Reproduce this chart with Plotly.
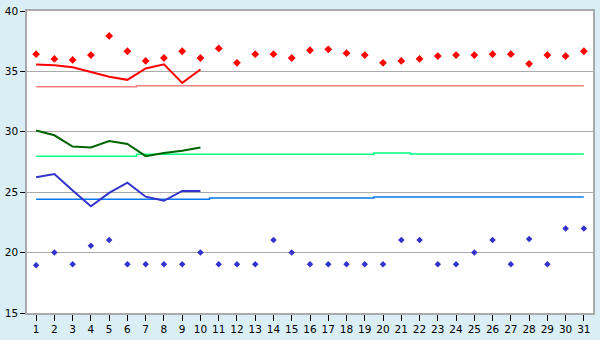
import plotly.graph_objects as go

days = list(range(1, 32))
line_days = list(range(1, 11))

red_points = [36.43, 36.03, 35.95, 36.35, 37.94, 36.67, 35.87, 36.11, 36.67, 36.11,
              36.9, 35.71, 36.43, 36.43, 36.11, 36.75, 36.83, 36.51, 36.35, 35.71,
              35.87, 36.03, 36.27, 36.35, 36.35, 36.43, 36.43, 35.63, 36.35, 36.27, 36.67]
blue_points = [18.96, 20.0, 19.04, 20.56, 21.04, 19.04, 19.04, 19.04, 19.04, 20.0,
               19.04, 19.04, 19.04, 21.04, 20.0, 19.04, 19.04, 19.04, 19.04, 19.04,
               21.04, 21.04, 19.04, 19.04, 20.0, 21.04, 19.04, 21.12, 19.04, 22.0, 22.0]

red_line = [35.58, 35.5, 35.35, 34.96, 34.55, 34.3, 35.24, 35.58, 34.05, 35.16]
green_line = [30.1, 29.71, 28.78, 28.7, 29.23, 28.99, 27.98, 28.25, 28.44, 28.7]
blue_line = [26.24, 26.51, 25.15, 23.83, 24.94, 25.79, 24.63, 24.29, 25.1, 25.1]

red_ref = [33.73] * 6 + [33.81] * 25
green_ref = [27.98] * 6 + [28.15] * 13 + [28.25] * 2 + [28.17] * 10
blue_ref = [24.41] * 10 + [24.52] * 9 + [24.6] * 12

fig = go.Figure()

fig.add_trace(go.Scatter(x=days, y=red_ref, mode="lines", line=dict(color="#f08080", width=1.5, shape="hvh"), hoverinfo="skip"))
fig.add_trace(go.Scatter(x=days, y=green_ref, mode="lines", line=dict(color="#00ff80", width=1.5, shape="hvh"), hoverinfo="skip"))
fig.add_trace(go.Scatter(x=days, y=blue_ref, mode="lines", line=dict(color="#0a78f0", width=1.5, shape="hvh"), hoverinfo="skip"))

fig.add_trace(go.Scatter(x=line_days, y=red_line, mode="lines", line=dict(color="#ff0000", width=2)))
fig.add_trace(go.Scatter(x=line_days, y=green_line, mode="lines", line=dict(color="#006400", width=2)))
fig.add_trace(go.Scatter(x=line_days, y=blue_line, mode="lines", line=dict(color="#3333cc", width=2)))

fig.add_trace(go.Scatter(x=days, y=red_points, mode="markers", marker=dict(symbol="diamond", size=6, color="#ff0000")))
fig.add_trace(go.Scatter(x=days, y=blue_points, mode="markers", marker=dict(symbol="diamond", size=5, color="#3333cc")))

fig.update_layout(
    width=600, height=340,
    margin=dict(l=20.5, r=5, t=5.3, b=20),
    paper_bgcolor="#d9eff5",
    plot_bgcolor="#ffffff",
    showlegend=False,
    font=dict(family="DejaVu Sans", size=10, color="#000000"),
)
fig.update_xaxes(
    range=[0.5, 31.5], tickmode="array", tickvals=days, ticktext=[str(d) for d in days],
    showgrid=False, zeroline=False,
    showline=True, linecolor="#aaaaaa", linewidth=1.5, mirror=True,
    ticks="outside", ticklen=6, tickcolor="#000000", tickwidth=1,
    tickfont=dict(size=10.5),
)
fig.update_yaxes(
    range=[15, 40], tickvals=[15, 20, 25, 30, 35, 40],
    showgrid=True, gridcolor="#aaaaaa", gridwidth=1, zeroline=False,
    showline=True, linecolor="#aaaaaa", linewidth=1.5, mirror=True,
    ticks="outside", ticklen=5, tickcolor="#000000", tickwidth=1,
    tickfont=dict(size=10.5),
)

fig.write_html("out.html")
